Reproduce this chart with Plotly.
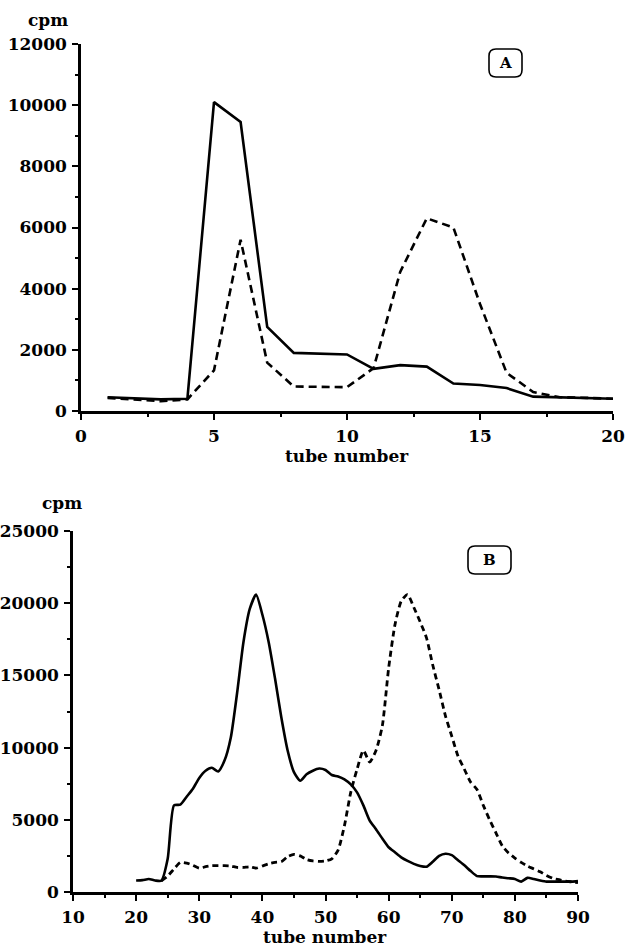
import plotly.graph_objects as go

# ---------------- Panel A data ----------------
tube_a = [1, 2, 3, 4, 5, 6, 7, 8, 9, 10, 11, 12, 13, 14, 15, 16, 17, 18, 19, 20]
solid_a = [450, 420, 380, 400, 10100, 9450, 2750, 1900, 1870, 1850, 1380, 1500, 1450, 900, 850, 750, 470, 450, 430, 400]
dashed_a = [430, 380, 320, 380, 1330, 5600, 1580, 800, 780, 780, 1400, 4550, 6300, 6000, 3500, 1250, 620, 450, 430, 400]

# ---------------- Panel B data ----------------
tube_b = list(range(20, 91))
solid_b = [800, 820, 900, 800, 780, 2300, 6000, 6050, 6600, 7150,
           7900, 8400, 8600, 8350, 9100, 10700, 13800, 17300, 19600, 20600,
           19200, 17300, 14800, 12100, 9800, 8300, 7700, 8150, 8400, 8550,
           8450, 8100, 8000, 7800, 7450, 6900, 6000, 4950, 4350, 3700,
           3100, 2750, 2400, 2150, 1950, 1800, 1750, 2100, 2500, 2650,
           2550, 2200, 1850, 1450, 1100, 1080, 1080, 1070, 1000, 950,
           900, 720, 980, 900, 800, 720, 720, 720, 720, 720, 750]
tube_b_dash = list(range(24, 91))
dashed_b = [780, 1100, 1600, 2050, 2000, 1850,
            1650, 1750, 1820, 1820, 1820, 1800, 1700, 1700, 1750, 1650,
            1800, 1950, 2050, 2100, 2450, 2600, 2500, 2250, 2150, 2120,
            2150, 2300, 2900, 4600, 6900, 8500, 9800, 9000, 9800, 11500,
            15500, 18500, 20150, 20600, 19700, 18700, 17600, 15700, 14000, 12200,
            10800, 9400, 8500, 7600, 7100, 6000, 5000, 4100, 3200, 2700,
            2350, 2050, 1800, 1600, 1400, 1150, 950, 850, 750, 700, 650]

ticks_a_x = [0, 5, 10, 15, 20]
ticks_a_y = [0, 2000, 4000, 6000, 8000, 10000, 12000]
ticks_b_x = [10, 20, 30, 40, 50, 60, 70, 80, 90]
ticks_b_y = [0, 5000, 10000, 15000, 20000, 25000]

W, H = 626, 950
FONT = dict(family="DejaVu Serif", size=17, color="black", weight="bold")

fig = go.Figure()
fig.add_trace(go.Scatter(x=tube_a, y=solid_a, mode="lines", xaxis="x", yaxis="y",
                         line=dict(color="black", width=2.6)))
fig.add_trace(go.Scatter(x=tube_a, y=dashed_a, mode="lines", xaxis="x", yaxis="y",
                         line=dict(color="black", width=2.6, dash="8px,5px")))
fig.add_trace(go.Scatter(x=tube_b, y=solid_b, mode="lines", xaxis="x2", yaxis="y2",
                         line=dict(color="black", width=2.6, shape="spline", smoothing=0.6)))
fig.add_trace(go.Scatter(x=tube_b_dash, y=dashed_b, mode="lines", xaxis="x2", yaxis="y2",
                         line=dict(color="black", width=2.8, dash="6px,4px", shape="spline", smoothing=0.6)))


def ax(domain, rng, tickvals, minor, anchor):
    return dict(domain=domain, range=rng, tickvals=tickvals, ticktext=[str(v) for v in tickvals],
                anchor=anchor, showline=True, linecolor="black", linewidth=2.6,
                ticks="outside", ticklen=6, tickwidth=2, tickcolor="black",
                minor=dict(dtick=minor, ticks="outside", ticklen=3, tickwidth=1.5, tickcolor="black"),
                showgrid=False, zeroline=False, tickfont=FONT, fixedrange=True, automargin=False)


xa = ax([81 / W, 613 / W], [0, 20], ticks_a_x, 2.5, "y")
xa["ticklabelstandoff"] = 2
ya = ax([1 - 411 / H, 1 - 44 / H], [0, 12000], ticks_a_y, 1000, "x")
ya["ticklabelstandoff"] = 2
xb = ax([73 / W, 578 / W], [10, 90], ticks_b_x, 5, "y2")
xb["ticklabelstandoff"] = 2
yb = ax([1 - 892 / H, 1 - 531 / H], [0, 25000], ticks_b_y, 2500, "x2")
yb["ticklabelstandoff"] = 2

annotations = [
    dict(text="cpm", x=48 / W, y=1 - 20 / H, xref="paper", yref="paper", showarrow=False, font=FONT,
         xanchor="center", yanchor="middle"),
    dict(text="cpm", x=62 / W, y=1 - 503 / H, xref="paper", yref="paper", showarrow=False, font=FONT,
         xanchor="center", yanchor="middle"),
    dict(text="tube number", x=347 / W, y=1 - 456 / H, xref="paper", yref="paper", showarrow=False, font=FONT,
         xanchor="center", yanchor="middle"),
    dict(text="tube number", x=325 / W, y=1 - 937 / H, xref="paper", yref="paper", showarrow=False, font=FONT,
         xanchor="center", yanchor="middle"),
    dict(text="A", x=505.5 / W, y=1 - 63 / H, xref="paper", yref="paper", showarrow=False,
         xanchor="center", yanchor="middle",
         font=dict(family="DejaVu Serif", size=15, color="black", weight="bold")),
    dict(text="B", x=489.5 / W, y=1 - 560 / H, xref="paper", yref="paper", showarrow=False,
         xanchor="center", yanchor="middle",
         font=dict(family="DejaVu Serif", size=15, color="black", weight="bold")),
]


def rounded_box(x0, y0, x1, y1, r):
    # pixel coords (y down) -> paper coords
    def P(x, y):
        return f"{x / W:.5f},{1 - y / H:.5f}"
    return ("M " + P(x0 + r, y0) + " L " + P(x1 - r, y0) + " Q " + P(x1, y0) + " " + P(x1, y0 + r) +
            " L " + P(x1, y1 - r) + " Q " + P(x1, y1) + " " + P(x1 - r, y1) +
            " L " + P(x0 + r, y1) + " Q " + P(x0, y1) + " " + P(x0, y1 - r) +
            " L " + P(x0, y0 + r) + " Q " + P(x0, y0) + " " + P(x0 + r, y0) + " Z")


shapes = [
    dict(type="path", xref="paper", yref="paper", path=rounded_box(489, 49, 522, 77, 7),
         line=dict(color="black", width=1.6)),
    dict(type="path", xref="paper", yref="paper", path=rounded_box(468, 546, 511, 574, 7),
         line=dict(color="black", width=1.6)),
]

fig.update_layout(
    width=W, height=H, margin=dict(l=0, r=0, t=0, b=0, pad=0, autoexpand=False),
    paper_bgcolor="white", plot_bgcolor="white", showlegend=False,
    xaxis=xa, yaxis=ya, xaxis2=xb, yaxis2=yb,
    annotations=annotations, shapes=shapes,
)

fig.write_html("out.html")
